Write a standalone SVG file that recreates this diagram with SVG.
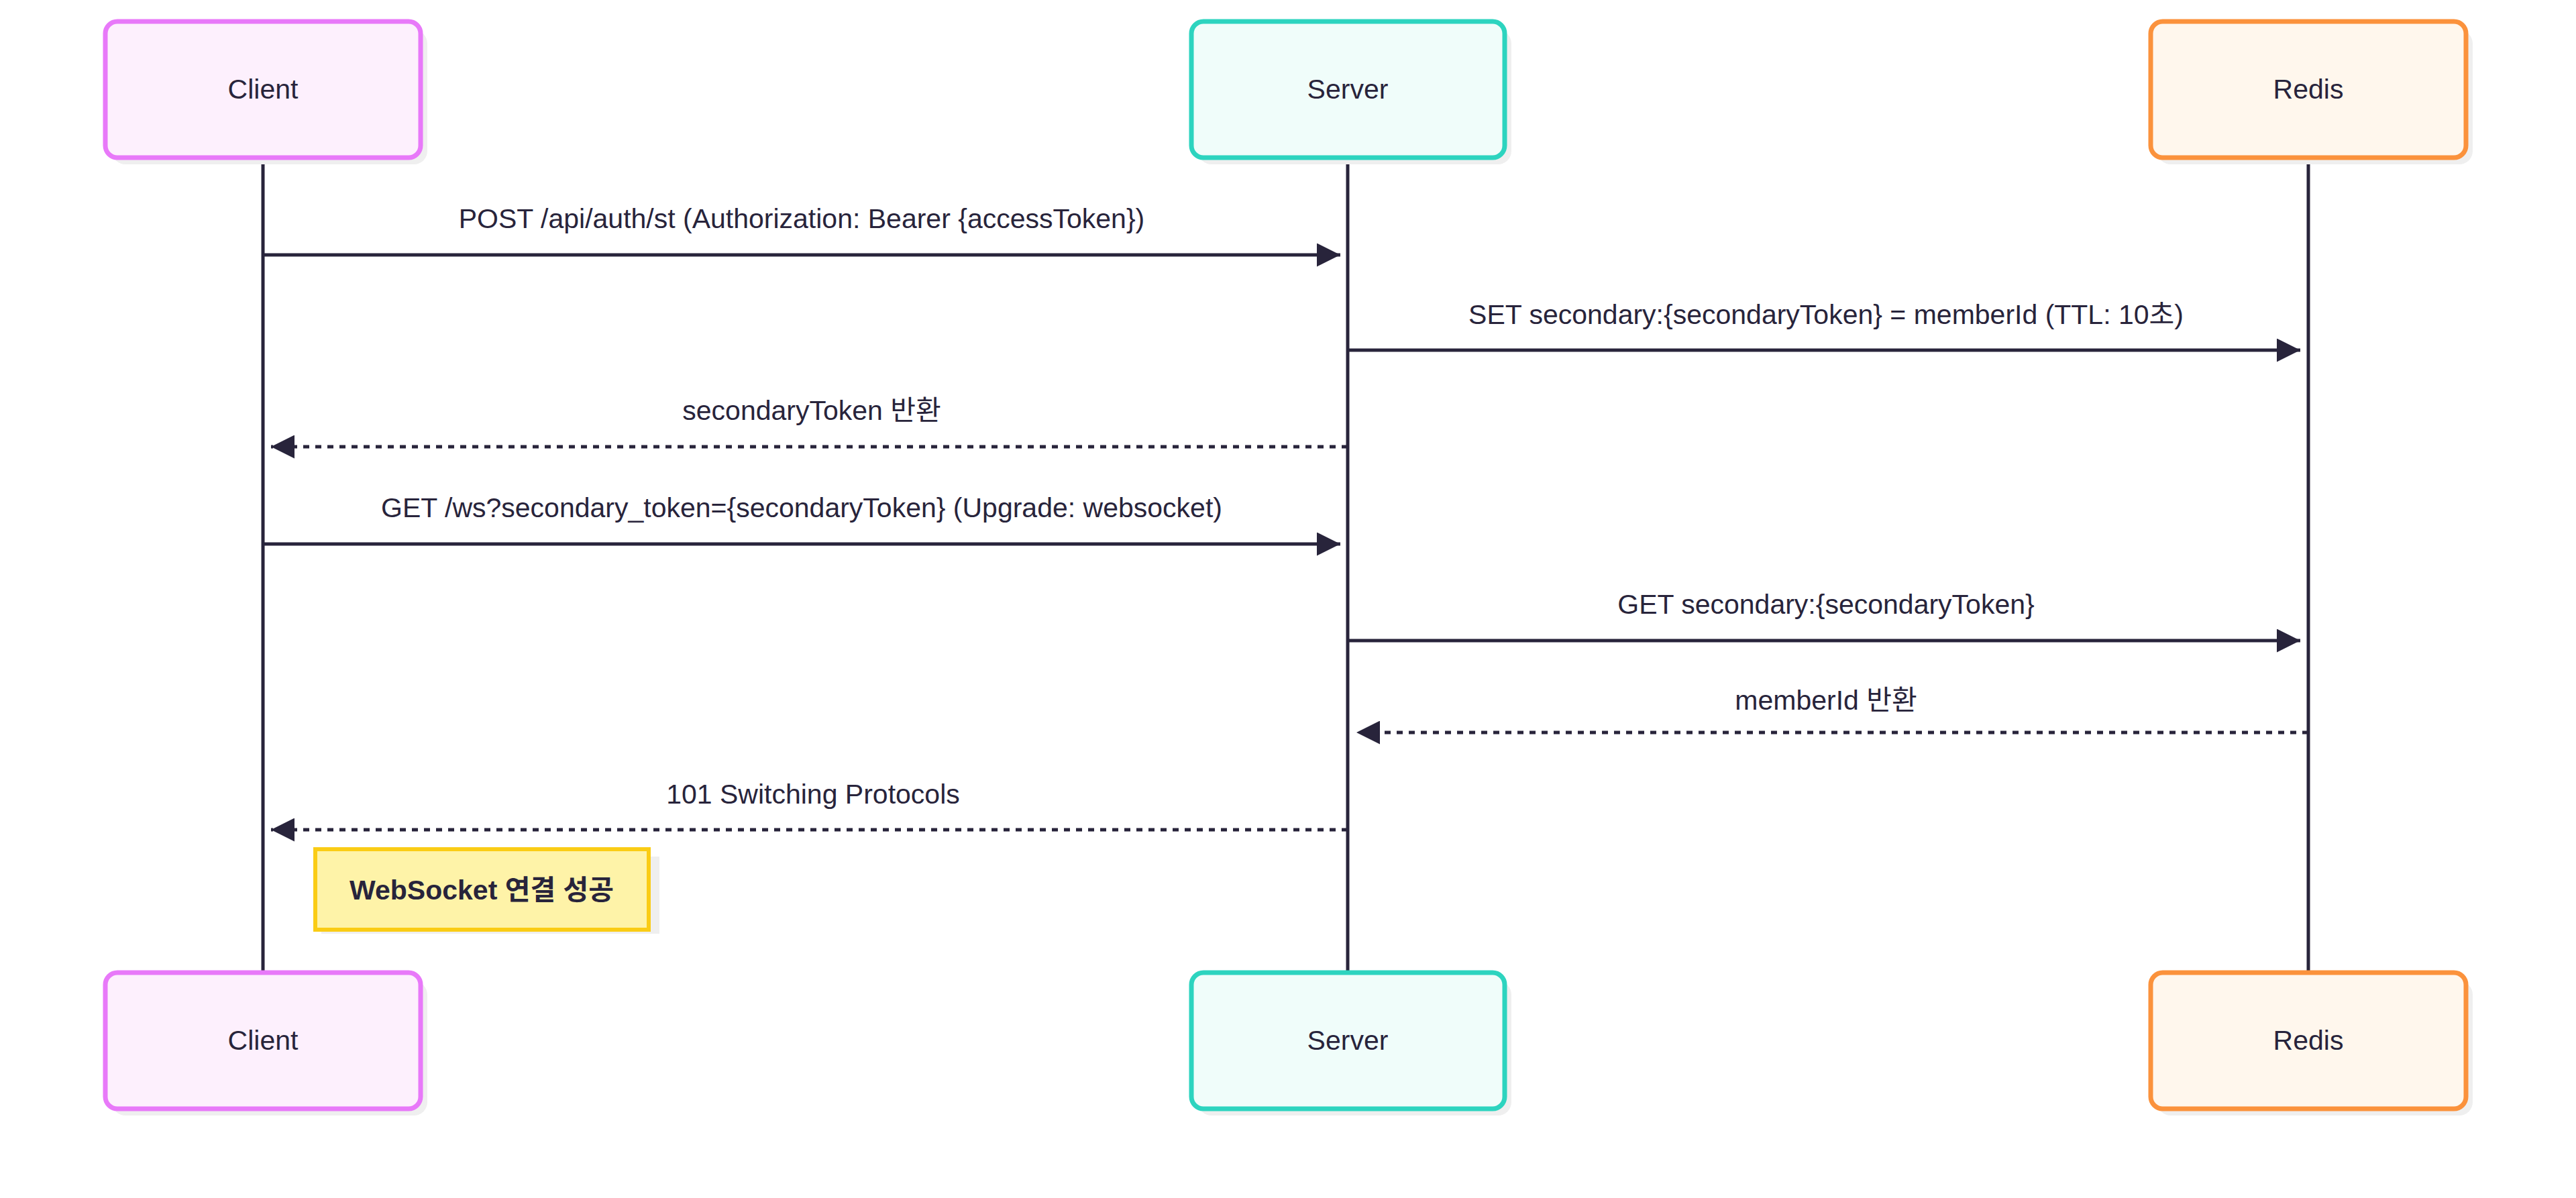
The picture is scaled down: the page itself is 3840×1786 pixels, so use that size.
<svg xmlns="http://www.w3.org/2000/svg" width="3840" height="1786" viewBox="0 0 3840 1786">
<style>
text{font-family:"Liberation Sans",Arial,"Noto Sans CJK KR",sans-serif;fill:#28243b;font-size:41px;text-anchor:middle}
.sh{fill:#efefef}
.ln{stroke:#28243b;stroke-width:5;fill:none}
.ds{stroke-dasharray:9 9}
.c{fill:#fdf0fd;stroke:#e879f9;stroke-width:7}
.s{fill:#f0fdfa;stroke:#2dd4bf;stroke-width:7}
.r{fill:#fff7ed;stroke:#fb923c;stroke-width:7}
</style>
<defs>
<marker id="a" viewBox="0 0 10 10" refX="10" refY="5" markerWidth="7" markerHeight="7" markerUnits="strokeWidth" orient="auto"><path d="M0,0L10,5L0,10z" fill="#28243b"/></marker>
</defs>
<rect width="3840" height="1786" fill="#fff"/>
<g id="lifelines">
<line class="ln" x1="392" y1="235" x2="392" y2="1450"/>
<line class="ln" x1="2009" y1="235" x2="2009" y2="1450"/>
<line class="ln" x1="3441" y1="235" x2="3441" y2="1450"/>
</g>
<g id="client-top"><rect class="sh" x="167" y="45" width="470" height="200" rx="20"/><rect class="c" x="157" y="32" width="470" height="203" rx="18"/><text x="392" y="147">Client</text></g>
<g id="server-top"><rect class="sh" x="1786" y="45" width="467" height="200" rx="20"/><rect class="s" x="1776" y="32" width="467" height="203" rx="18"/><text x="2009" y="147">Server</text></g>
<g id="redis-top"><rect class="sh" x="3216" y="45" width="470" height="200" rx="20"/><rect class="r" x="3206" y="32" width="470" height="203" rx="18"/><text x="3441" y="147">Redis</text></g>
<g id="client-bottom"><rect class="sh" x="167" y="1463" width="470" height="200" rx="20"/><rect class="c" x="157" y="1450" width="470" height="203" rx="18"/><text x="392" y="1565">Client</text></g>
<g id="server-bottom"><rect class="sh" x="1786" y="1463" width="467" height="200" rx="20"/><rect class="s" x="1776" y="1450" width="467" height="203" rx="18"/><text x="2009" y="1565">Server</text></g>
<g id="redis-bottom"><rect class="sh" x="3216" y="1463" width="470" height="200" rx="20"/><rect class="r" x="3206" y="1450" width="470" height="203" rx="18"/><text x="3441" y="1565">Redis</text></g>
<g id="connectors">
<line class="ln" x1="392" y1="380" x2="1998" y2="380" marker-end="url(#a)"/>
<text x="1195" y="340">POST /api/auth/st (Authorization: Bearer {accessToken})</text>
<line class="ln" x1="2009" y1="522" x2="3429" y2="522" marker-end="url(#a)"/>
<text x="2722" y="483">SET secondary:{secondaryToken} = memberId (TTL: 10초)</text>
<line class="ln ds" x1="2009" y1="666" x2="404" y2="666" marker-end="url(#a)"/>
<text x="1210" y="626">secondaryToken 반환</text>
<line class="ln" x1="392" y1="811" x2="1998" y2="811" marker-end="url(#a)"/>
<text x="1195" y="771">GET /ws?secondary_token={secondaryToken} (Upgrade: websocket)</text>
<line class="ln" x1="2009" y1="955" x2="3429" y2="955" marker-end="url(#a)"/>
<text x="2722" y="915">GET secondary:{secondaryToken}</text>
<line class="ln ds" x1="3441" y1="1092" x2="2022" y2="1092" marker-end="url(#a)"/>
<text x="2722" y="1058">memberId 반환</text>
<line class="ln ds" x1="2009" y1="1237" x2="404" y2="1237" marker-end="url(#a)"/>
<text x="1212" y="1198">101 Switching Protocols</text>
</g>
<g id="note"><rect class="sh" x="479" y="1277" width="504" height="115"/><rect x="470" y="1266" width="497" height="120" fill="#fef3a8" stroke="#facc15" stroke-width="6"/><text x="718" y="1341" font-weight="bold">WebSocket 연결 성공</text></g>
</svg>
